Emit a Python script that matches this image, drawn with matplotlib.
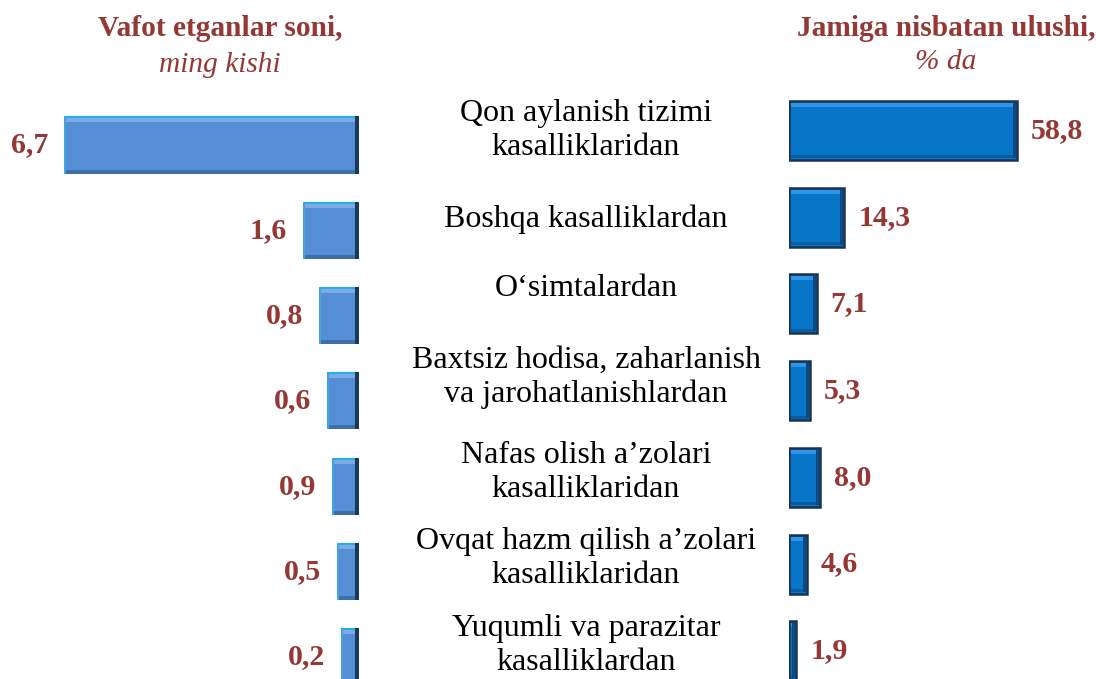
import matplotlib
matplotlib.use("Agg")
import matplotlib.pyplot as plt
from matplotlib.transforms import blended_transform_factory

plt.rcParams["font.family"] = ["Liberation Serif", "DejaVu Serif"]

# data
causes = [
    "Qon aylanish tizimi\nkasalliklaridan",
    "Boshqa kasalliklardan",
    "O\u2018simtalardan",
    "Baxtsiz hodisa, zaharlanish\nva jarohatlanishlardan",
    "Nafas olish a\u2019zolari\nkasalliklaridan",
    "Ovqat hazm qilish a\u2019zolari\nkasalliklaridan",
    "Yuqumli va parazitar\nkasalliklardan",
]
deaths_labels = ["6,7", "1,6", "0,8", "0,6", "0,9", "0,5", "0,2"]
# bar lengths as drawn in the picture (thousand people)
deaths_bars = [6.7, 1.27, 0.91, 0.73, 0.61, 0.50, 0.41]
share = [58.8, 14.3, 7.1, 5.3, 8.0, 4.6, 1.9]
share_labels = ["58,8", "14,3", "7,1", "5,3", "8,0", "4,6", "1,9"]

W, H = 1096, 679
red = "#953735"

fig = plt.figure(figsize=(W / 100, H / 100), dpi=100)

# left panel: bars grow to the left, ending at x=359 px
ax_l = fig.add_axes([0, 0, 359 / W, 1])
ax_l.set_xlim(359 / 44, 0)
ax_l.set_ylim(6.26, -1.70)
ax_l.axis("off")

# right panel: bars start at x=789 px
ax_r = fig.add_axes([789 / W, 0, 1 - 789 / W, 1])
ax_r.set_xlim(0, (W - 789) / 3.878)
ax_r.set_ylim(6.326, -1.505)
ax_r.axis("off")


def px_x(ax, n):
    x0, x1 = ax.get_xlim()
    return abs(x1 - x0) * n / (ax.get_position().width * W)


def px_y(ax, n):
    y0, y1 = ax.get_ylim()
    return abs(y1 - y0) * n / H


ys = list(range(len(causes)))

# left bars with a bevelled look
h = 0.67
dx, dy = px_x(ax_l, 1), px_y(ax_l, 1)
ax_l.barh(ys, deaths_bars, height=h, color="#558ED5")
for y, v in zip(ys, deaths_bars):
    top = y - h / 2
    bot = y + h / 2
    ax_l.barh(top + 3 * dy, v, height=6 * dy, color="#80AAE0")
    ax_l.barh(top + 1 * dy, v, height=2 * dy, color="#17B4F0")
    ax_l.barh(bot - 2 * dy, v, height=4 * dy, color="#3E6FA6")
    ax_l.barh(y, 4 * dx, height=h, left=0, color="#163A5C")
    ax_l.barh(y, 2 * dx, height=h, left=v - 2 * dx, color="#3FA6E6")

for y, v, t in zip(ys, deaths_bars, deaths_labels):
    ax_l.text(v + 16 * dx, y, t, ha="right", va="center", color=red,
              fontsize=21.5, fontweight="bold")

# right bars
h2 = 0.68
rx, ry = px_x(ax_r, 1), px_y(ax_r, 1)
ax_r.barh(ys, share, height=h2, color="#0776C8", edgecolor="#1B3250",
          linewidth=1.8)
for y, v in zip(ys, share):
    top = y - h2 / 2
    bot = y + h2 / 2
    ax_r.barh(top + 4 * ry, v - 4 * rx, left=2 * rx, height=4 * ry,
              color="#2E95E8")
    ax_r.barh(bot - 3 * ry, v - 4 * rx, left=2 * rx, height=3 * ry,
              color="#0A5C9E")
    ax_r.barh(y, 3 * rx, height=h2 - 4 * ry, left=v - 4 * rx,
              color="#0A4A80")

for y, v, t in zip(ys, share, share_labels):
    ax_r.text(v + 14 * rx, y, t, ha="left", va="center", color=red,
              fontsize=21.5, fontweight="bold")

# category labels in the middle
label_shift = [0.0, 0.02, -0.18, -0.15, -0.06, -0.06, -0.06]
tr = blended_transform_factory(fig.transFigure, ax_r.transData)
for y, c, s in zip(ys, causes, label_shift):
    ax_r.text(586 / W, y + s, c, transform=tr, ha="center", va="center",
              fontsize=23, linespacing=1.22, color="black", clip_on=False)

# headers
fig.text(220 / W, 1 - 28 / H, "Vafot etganlar soni,", ha="center",
         va="center", color=red, fontsize=21.2, fontweight="bold")
fig.text(220 / W, 1 - 65 / H, "ming kishi", ha="center", va="center",
         color=red, fontsize=21.2, style="italic")
fig.text(946 / W, 1 - 28 / H, "Jamiga nisbatan ulushi,", ha="center",
         va="center", color=red, fontsize=21.2, fontweight="bold")
fig.text(946 / W, 1 - 62 / H, "% da", ha="center", va="center",
         color=red, fontsize=21.2, style="italic")

fig.savefig("out.png", dpi=100)
